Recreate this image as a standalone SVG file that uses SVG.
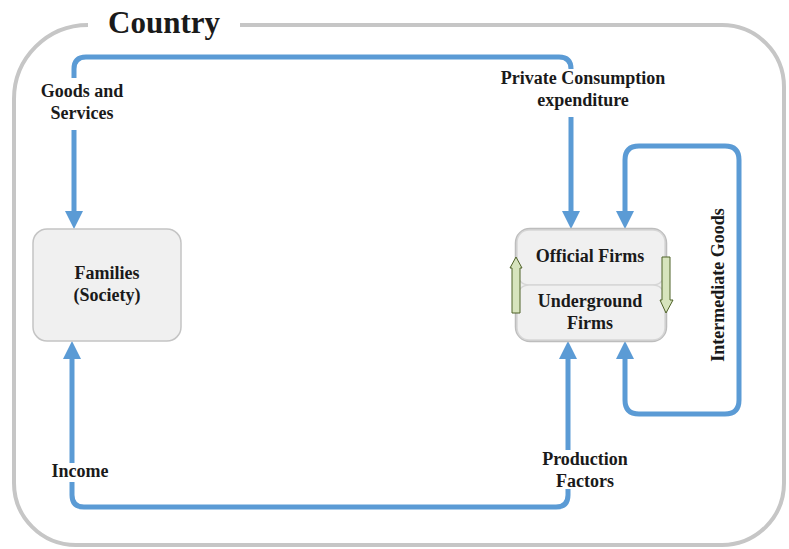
<svg xmlns="http://www.w3.org/2000/svg" width="789" height="549" viewBox="0 0 789 549">
<defs>
<style>
.lbl{font-family:"Liberation Serif","Times New Roman",serif;font-weight:bold;font-size:18px;fill:#1a1a1a;text-anchor:middle}
.flow{fill:none;stroke:#5b9bd5;stroke-width:5}
.box{fill:#f0f0f0;stroke:#c4c4c4;stroke-width:1.5}
.garrow{fill:#d7e4bd;stroke:#4f6228;stroke-width:1}
</style>
<marker id="ah" viewBox="0 0 18 18" refX="1" refY="9" markerWidth="18" markerHeight="18" orient="auto-start-reverse" markerUnits="userSpaceOnUse">
<path d="M0,0 L18,9 L0,18 z" fill="#5b9bd5"/>
</marker>
</defs>
<rect width="789" height="549" fill="#ffffff"/>
<g id="frame">
<path d="M240,25 H722 A62,62 0 0 1 784,87 V483 A62,62 0 0 1 722,545 H76 A62,62 0 0 1 14,483 V99 A74,74 0 0 1 88,25" fill="none" stroke="#c6c6c6" stroke-width="4"/>
<text x="164" y="33" class="lbl" style="font-size:31px">Country</text>
</g>
<g id="connectors">
<path class="flow" d="M74,78 V69 Q74,57 86,57 H559 Q571,57 571,69 V68"/>
<path class="flow" d="M74,130 V212" marker-end="url(#ah)"/>
<path class="flow" d="M571,117 V212" marker-end="url(#ah)"/>
<path class="flow" d="M72,463 V358" marker-end="url(#ah)"/>
<path class="flow" d="M72,482 V495 Q72,507 84,507 H556 Q568,507 568,495 V489"/>
<path class="flow" d="M568,450 V358" marker-end="url(#ah)"/>
<path class="flow" d="M625,212 V160 Q625,146 639,146 H725 Q739,146 739,160 V400 Q739,414 725,414 H639 Q625,414 625,400 V358" marker-start="url(#ah)" marker-end="url(#ah)"/>
<text x="82" y="97" class="lbl">Goods and</text>
<text x="82" y="119" class="lbl">Services</text>
<text x="583" y="84" class="lbl">Private Consumption</text>
<text x="583" y="106" class="lbl">expenditure</text>
<text x="80" y="477" class="lbl">Income</text>
<text x="585" y="465" class="lbl">Production</text>
<text x="585" y="487" class="lbl">Factors</text>
<text x="0" y="0" class="lbl" transform="translate(724,285) rotate(-90)">Intermediate Goods</text>
</g>
<g id="families">
<rect class="box" x="33" y="229" width="148" height="112" rx="14"/>
<text x="107" y="279" class="lbl">Families</text>
<text x="107" y="301" class="lbl">(Society)</text>
</g>
<g id="firms">
<rect x="516" y="229" width="150" height="112" rx="14" fill="#f0f0f0" stroke="#bdbdbd" stroke-width="2.5"/>
<rect x="517" y="230" width="148" height="55" rx="12" fill="#f0f0f0" stroke="#d6d6d6" stroke-width="1.5"/>
<rect x="517" y="285" width="148" height="55" rx="12" fill="#f0f0f0" stroke="#d6d6d6" stroke-width="1.5"/>
<text x="590" y="262" class="lbl">Official Firms</text>
<text x="590" y="307" class="lbl">Underground</text>
<text x="590" y="329" class="lbl">Firms</text>
</g>
<g id="shift-arrows">
<polygon class="garrow" points="512,313 520,313 520,268 522,268 516,257 510,268 512,268"/>
<polygon class="garrow" points="662,257 670,257 670,300 673,300 666,313 660,300 662,300"/>
</g>
</svg>
